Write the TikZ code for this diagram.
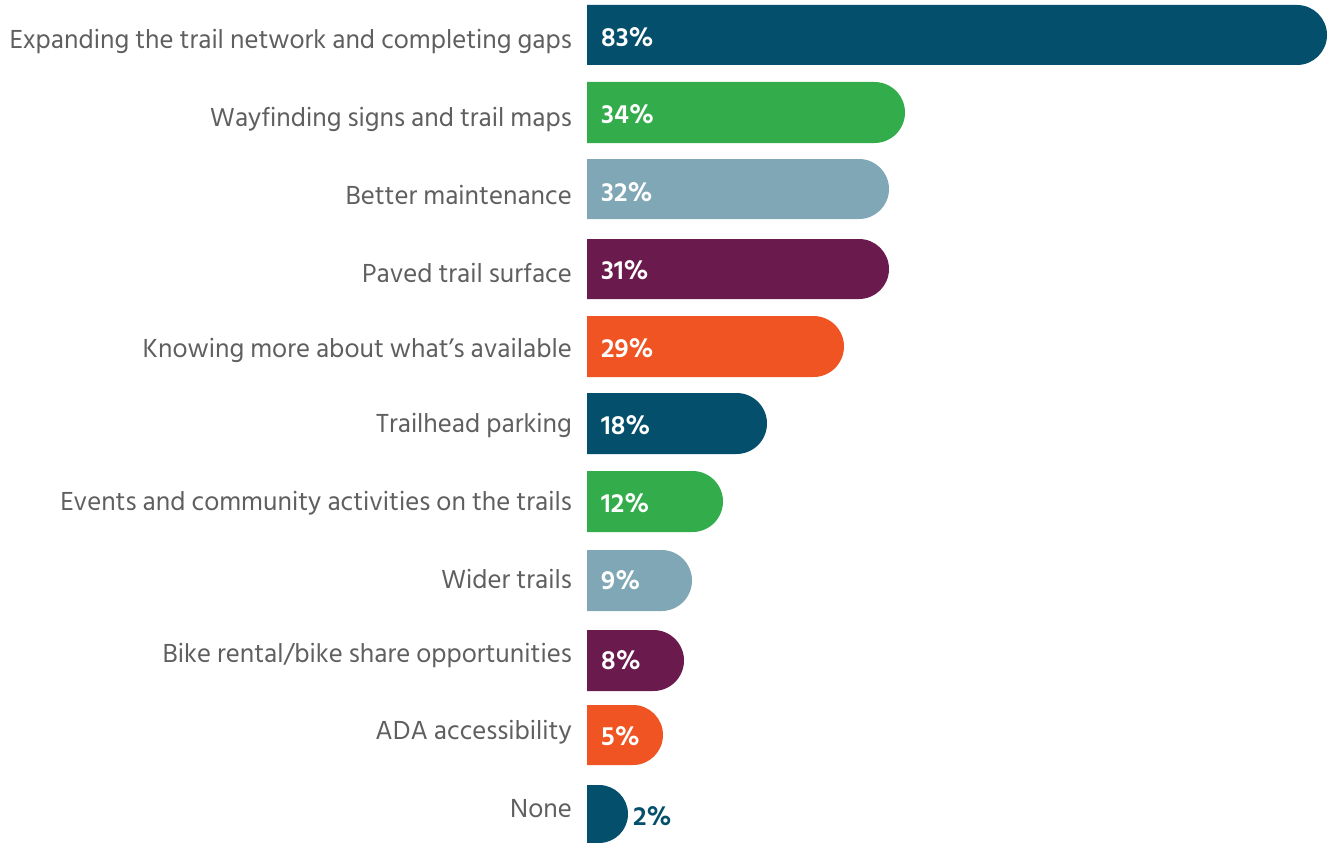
\documentclass[tikz,border=0pt]{standalone}
\usepackage{fontspec}
\setmainfont{Hind Siliguri}
\definecolor{cblue}{HTML}{044F6C}
\definecolor{cgreen}{HTML}{33AD4B}
\definecolor{cgray}{HTML}{80A7B5}
\definecolor{cpurple}{HTML}{6B1A4E}
\definecolor{corange}{HTML}{F05423}
\definecolor{ctext}{HTML}{5F5F5F}
\newcommand{\chartbar}[4]{% top, bottom, end, color
  \pgfmathsetmacro{\rr}{(#2-#1)/2}
  \fill[#4] (587,#1) -- ({#3-\rr},#1) arc(-90:90:\rr) -- (587,#2) -- cycle;}
\begin{document}
\begin{tikzpicture}[x=1pt,y=-1pt,
  lab/.style={anchor=east,text=ctext,font=\fontsize{26.8}{30}\selectfont,inner sep=0pt},
  pct/.style={anchor=west,text=white,font=\fontsize{27}{30}\selectfont\bfseries,inner sep=0pt}]
\useasboundingbox (0,0) rectangle (1328,843);
\chartbar{5}{65}{1327}{cblue}
\chartbar{82}{143}{905}{cgreen}
\chartbar{159}{219}{889}{cgray}
\chartbar{239}{299}{889}{cpurple}
\chartbar{316}{377}{844}{corange}
\chartbar{393}{454}{767}{cblue}
\chartbar{471}{532}{723}{cgreen}
\chartbar{550}{611}{692}{cgray}
\chartbar{630}{691}{684}{cpurple}
\chartbar{705}{765}{663}{corange}
\chartbar{785}{843}{628}{cblue}
\node[lab] (l1) at (572,42) {Expanding the trail network and completing gaps};
\node[lab] (l2) at (572,120) {Wayfinding signs and trail maps};
\node[lab] (l3) at (572,195) {Better maintenance};
\node[lab] (l4) at (572,273) {Paved trail surface};
\node[lab] (l5) at (572,350) {Knowing more about what’s available};
\node[lab] (l6) at (572,426) {Trailhead parking};
\node[lab] (l7) at (572,503) {Events and community activities on the trails};
\node[lab] (l8) at (572,579) {Wider trails};
\node[lab] (l9) at (572,656) {Bike rental/bike share opportunities};
\node[lab] (l10) at (572,732) {ADA accessibility};
\node[lab] (l11) at (572,809) {None};
\node[pct] (p1) at (601,37) {83\%};
\node[pct] (p2) at (601,114) {34\%};
\node[pct] (p3) at (601,192) {32\%};
\node[pct] (p4) at (601,270) {31\%};
\node[pct] (p5) at (601,348) {29\%};
\node[pct] (p6) at (601,425) {18\%};
\node[pct] (p7) at (601,503) {12\%};
\node[pct] (p8) at (601,580) {9\%};
\node[pct] (p9) at (601,660) {8\%};
\node[pct] (p10) at (601,736) {5\%};
\node[pct,text=cblue] (p11) at (633,816) {2\%};
\end{tikzpicture}
\end{document}
